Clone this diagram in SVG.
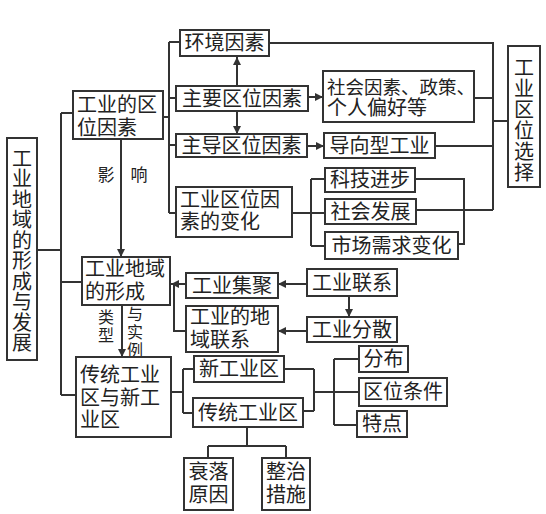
<svg xmlns="http://www.w3.org/2000/svg" width="546" height="514" viewBox="0 0 546 514">
<defs>
<marker id="ah" markerUnits="userSpaceOnUse" markerWidth="9" markerHeight="8" refX="8" refY="4" orient="auto">
<path d="M0,0 L8,4 L0,8 Z" fill="#333"/>
</marker>
<style>
rect{fill:#fff;stroke:#333;stroke-width:2}
text{font-family:"Noto Sans CJK SC","Noto Sans",sans-serif;font-size:20px;fill:#222}
.c{text-anchor:middle}
.s{font-size:17px}
.v{writing-mode:vertical-rl;text-anchor:start}
#connectors path,#connectors line{fill:none;stroke:#333;stroke-width:2}
</style>
</defs>
<rect x="0" y="0" width="546" height="514" style="fill:#fff;stroke:none"/>
<g id="connectors">
<path d="M37,250 H61 M61,113 V395 M61,113 H73 M61,282 H82 M61,395 H76"/>
<path d="M163,117 H169 M169,42 V213 M169,42 H180 M169,98 H176 M169,145 H176 M169,213 H176"/>
<line x1="237" y1="86" x2="237" y2="57" marker-end="url(#ah)"/>
<line x1="237" y1="111" x2="237" y2="134" marker-end="url(#ah)"/>
<line x1="308" y1="97" x2="323" y2="97" marker-end="url(#ah)"/>
<line x1="307" y1="146" x2="324" y2="146" marker-end="url(#ah)"/>
<path d="M269,43 H493 V210 M474,98 H493 M435,146 H493 M416,210 H493 M493,121 H508"/>
<path d="M292,213 H311 M311,179 V246 M311,179 H325 M311,213 H325 M311,246 H325"/>
<path d="M415,179 H464 V244 H458"/>
<line x1="121" y1="139" x2="121" y2="257" marker-end="url(#ah)"/>
<line x1="122" y1="305" x2="122" y2="357" marker-end="url(#ah)"/>
<line x1="186" y1="284" x2="171" y2="284" marker-end="url(#ah)"/>
<path d="M174,284 V331 H186"/>
<line x1="307" y1="284" x2="278" y2="284" marker-end="url(#ah)"/>
<line x1="349" y1="296" x2="349" y2="317" marker-end="url(#ah)"/>
<line x1="307" y1="331" x2="278" y2="331" marker-end="url(#ah)"/>
<path d="M171,392 H183 M183,369 V413 M183,369 H194 M183,413 H193"/>
<path d="M284,369 H314 M303,411 H314 M314,369 V411 M314,392 H359 M334,359 V425 M334,359 H359 M334,425 H357"/>
<path d="M247,427 V446 M208,446 H286 M208,446 V458 M286,446 V458"/>
</g>
<g id="labels">
<text class="s c" x="106" y="181">影</text>
<text class="s c" x="139" y="181">响</text>
<text class="v" x="106" y="309" style="font-size:16px;letter-spacing:2px">类型</text>
<text class="v" x="135" y="306" style="font-size:16px;letter-spacing:2px">与实例</text>
</g>
<g id="n_main"><rect x="7" y="138" width="30" height="222"/>
<text class="v" x="22" y="148" style="letter-spacing:0.5px">工业地域的形成与发展</text></g>
<g id="n_loc"><rect x="73" y="91" width="90" height="48"/>
<text x="77" y="112">工业的区<tspan x="77" y="135">位因素</tspan></text></g>
<g id="n_env"><rect x="180" y="30" width="89" height="26"/><text class="c" x="224.5" y="50">环境因素</text></g>
<g id="n_major"><rect x="176" y="86" width="132" height="25"/><text class="c" x="242" y="105.5">主要区位因素</text></g>
<g id="n_dom"><rect x="176" y="134" width="131" height="23"/><text class="c" x="241.5" y="152.5">主导区位因素</text></g>
<g id="n_change"><rect x="176" y="187" width="116" height="50"/>
<text x="180" y="207">工业区位因<tspan x="180" y="229">素的变化</tspan></text></g>
<g id="n_social"><rect x="323" y="71" width="151" height="51"/>
<text x="327" y="94" style="font-size:18.5px">社会因素、政策、<tspan x="327" y="115" style="font-size:20px">个人偏好等</tspan></text></g>
<g id="n_orient"><rect x="324" y="133" width="111" height="25"/><text class="c" x="379.5" y="152.5">导向型工业</text></g>
<g id="n_select"><rect x="508" y="46" width="32" height="141"/>
<text class="v" x="524" y="57" style="letter-spacing:1px">工业区位选择</text></g>
<g id="n_tech"><rect x="325" y="168" width="90" height="24"/><text class="c" x="370" y="187">科技进步</text></g>
<g id="n_socdev"><rect x="325" y="199" width="91" height="25"/><text class="c" x="370.5" y="218.5">社会发展</text></g>
<g id="n_market"><rect x="325" y="232" width="133" height="27"/><text class="c" x="391.5" y="252.5">市场需求变化</text></g>
<g id="n_form"><rect x="82" y="257" width="88" height="48"/>
<text x="85" y="276">工业地域<tspan x="85" y="299">的形成</tspan></text></g>
<g id="n_agg"><rect x="186" y="273" width="92" height="25"/><text class="c" x="232" y="292.5">工业集聚</text></g>
<g id="n_link"><rect x="186" y="306" width="92" height="46"/>
<text x="190" y="324">工业的地<tspan x="190" y="347">域联系</tspan></text></g>
<g id="n_ilink"><rect x="307" y="269" width="90" height="27"/><text class="c" x="352" y="289.5">工业联系</text></g>
<g id="n_disp"><rect x="307" y="317" width="90" height="25"/><text class="c" x="352" y="336.5">工业分散</text></g>
<g id="n_tradnew"><rect x="76" y="357" width="95" height="80"/>
<text x="80" y="382">传统工业<tspan x="80" y="405">区与新工</tspan><tspan x="80" y="427">业区</tspan></text></g>
<g id="n_new"><rect x="194" y="356" width="90" height="26"/><text class="c" x="239" y="376">新工业区</text></g>
<g id="n_trad"><rect x="193" y="398" width="110" height="29"/><text class="c" x="248" y="419.5">传统工业区</text></g>
<g id="n_dist"><rect x="359" y="346" width="49" height="26"/><text class="c" x="383.5" y="366">分布</text></g>
<g id="n_cond"><rect x="359" y="378" width="88" height="28"/><text class="c" x="403" y="399">区位条件</text></g>
<g id="n_feat"><rect x="357" y="411" width="50" height="26"/><text class="c" x="382" y="431">特点</text></g>
<g id="n_decl"><rect x="184" y="458" width="49" height="52"/>
<text class="c" x="208.5" y="479">衰落<tspan x="208.5" y="502">原因</tspan></text></g>
<g id="n_fix"><rect x="262" y="458" width="48" height="52"/>
<text class="c" x="286" y="479">整治<tspan x="286" y="502">措施</tspan></text></g>
</svg>
